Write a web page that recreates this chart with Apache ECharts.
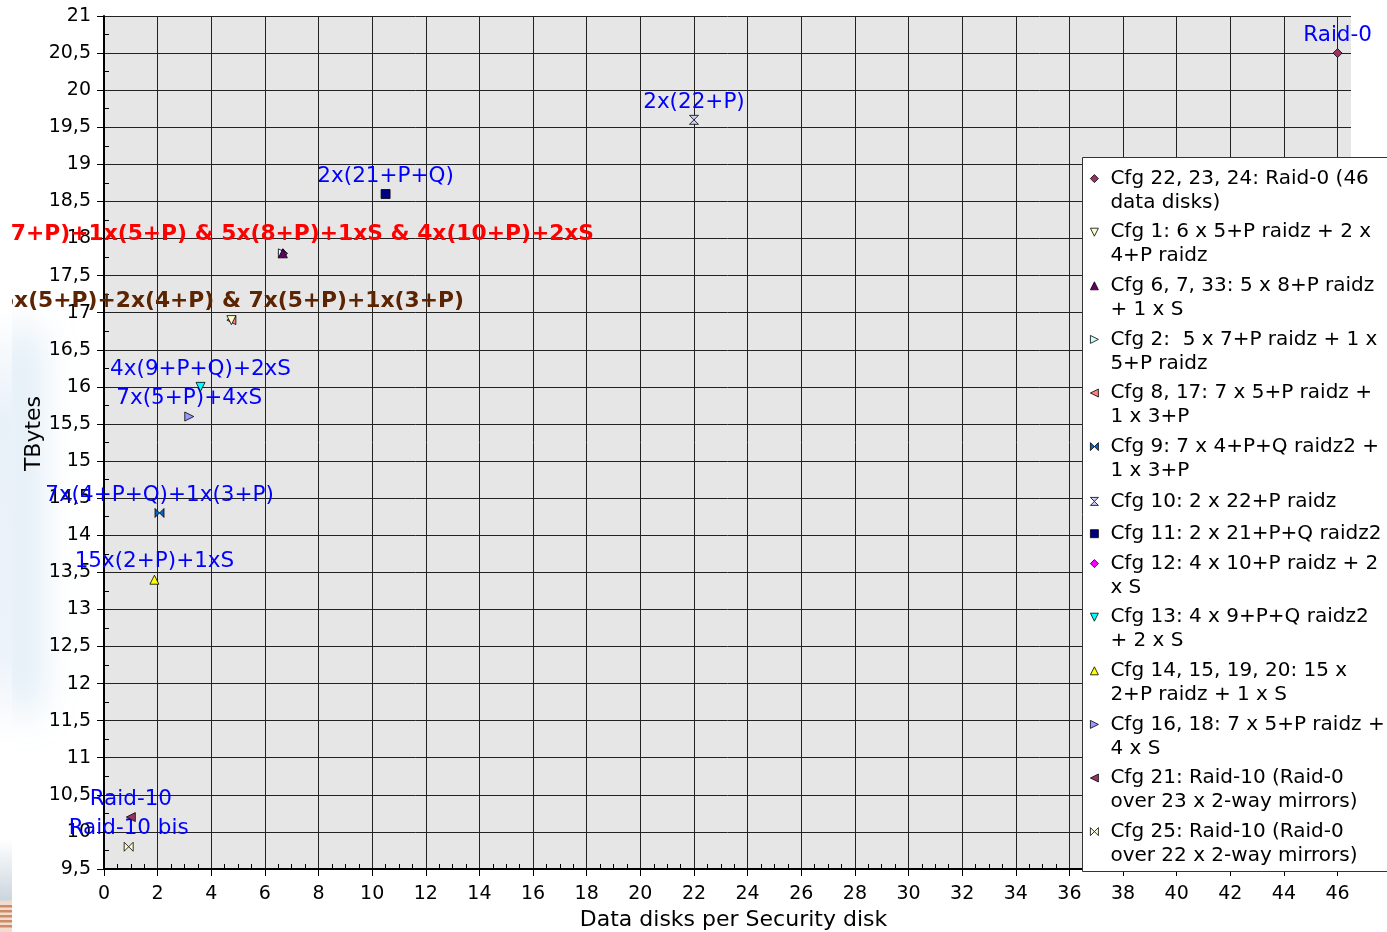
<!DOCTYPE html>
<html>
<head>
<meta charset="utf-8">
<script src="https://cdn.jsdelivr.net/npm/echarts@6/dist/echarts.min.js"></script>
<style>
  html, body { margin: 0; padding: 0; background: #ffffff; }
  #chart { width: 1387px; height: 932px; }
</style>
</head>
<body>
<div id="chart"></div>
<script>
// ZFS pool layouts: usable capacity vs. data disks per security (parity/mirror/spare) disk
const configNames = [
  'Cfg 22, 23, 24: Raid-0 (46\ndata disks)',
  'Cfg 1: 6 x 5+P raidz + 2 x\n4+P raidz',
  'Cfg 6, 7, 33: 5 x 8+P raidz\n+ 1 x S',
  'Cfg 2:  5 x 7+P raidz + 1 x\n5+P raidz',
  'Cfg 8, 17: 7 x 5+P raidz +\n1 x 3+P',
  'Cfg 9: 7 x 4+P+Q raidz2 +\n1 x 3+P',
  'Cfg 10: 2 x 22+P raidz',
  'Cfg 11: 2 x 21+P+Q raidz2',
  'Cfg 12: 4 x 10+P raidz + 2\nx S',
  'Cfg 13: 4 x 9+P+Q raidz2\n+ 2 x S',
  'Cfg 14, 15, 19, 20: 15 x\n2+P raidz + 1 x S',
  'Cfg 16, 18: 7 x 5+P raidz +\n4 x S',
  'Cfg 21: Raid-10 (Raid-0\nover 23 x 2-way mirrors)',
  'Cfg 25: Raid-10 (Raid-0\nover 22 x 2-way mirrors)'
];
const disksPerSecurity = [46, 4.75, 6.67, 6.67, 4.75, 2.07, 22, 10.5, 6.67, 3.6, 1.88, 3.18, 1, 0.92];
const capacityTB = [20.5, 16.9, 17.8, 17.8, 16.9, 14.3, 19.6, 18.6, 17.8, 16.0, 13.4, 15.6, 10.2, 9.8];
const pointLabels = [
  'Raid-0',
  '6x(5+P)+2x(4+P) & 7x(5+P)+1x(3+P)',
  '5x(7+P)+1x(5+P) & 5x(8+P)+1xS & 4x(10+P)+2xS',
  '', '',
  '7x(4+P+Q)+1x(3+P)',
  '2x(22+P)',
  '2x(21+P+Q)',
  '',
  '4x(9+P+Q)+2xS',
  '15x(2+P)+1xS',
  '7x(5+P)+4xS',
  'Raid-10',
  'Raid-10 bis'
];
const xRange = { min: 0, max: 46.5, interval: 2 };
const yRange = { min: 9.5, max: 21, interval: 0.5 };

// Marker styling per configuration
const markerColors = ['#993366', '#ffffcc', '#660066', '#ccffff', '#ff8080', '#0066cc', '#ccccff',
                      '#000080', '#ff00ff', '#00ffff', '#ffff00', '#9999ff', '#993366', '#ffffcc'];
const markerShapes = ['diamond', 'down', 'up', 'right', 'left', 'bowtie', 'hourglass',
                      'square', 'diamond', 'down', 'up', 'right', 'left', 'bowtie'];
const labelStyles = {
  blue:  { color: '#0000ff', fontSize: 21.5, fontWeight: 'normal', distance: 2 },
  red:   { color: '#ff0000', fontSize: 21.8, fontWeight: 'bold', distance: 3 },
  brown: { color: '#5c2400', fontSize: 21.8, fontWeight: 'bold', distance: 3 }
};
const labelKind = ['blue', 'brown', 'red', 'blue', 'blue', 'blue', 'blue',
                   'blue', 'blue', 'blue', 'blue', 'blue', 'blue', 'blue'];

// Polygons of each marker in a 10x10 box
const SHAPES = {
  diamond:   [[[5, 0], [10, 5], [5, 10], [0, 5]]],
  up:        [[[5, 0], [10, 10], [0, 10]]],
  down:      [[[0, 0], [10, 0], [5, 10]]],
  right:     [[[0, 0], [10, 5], [0, 10]]],
  left:      [[[10, 0], [0, 5], [10, 10]]],
  square:    [[[0, 0], [10, 0], [10, 10], [0, 10]]],
  bowtie:    [[[0, 0], [5, 5], [0, 10]], [[10, 0], [5, 5], [10, 10]]],
  hourglass: [[[0, 0], [10, 0], [5, 5]], [[0, 10], [10, 10], [5, 5]]]
};
function shapePath(kind, size, dx, dy) {
  return SHAPES[kind].map(poly =>
    poly.map((p, k) => (k ? 'L' : 'M') + (dx + p[0] * size / 10) + ' ' + (dy + p[1] * size / 10)).join(' ') + ' Z'
  ).join(' ');
}
// Legend icon: marker centred on the first text line, inside a box of the item size
function legendIcon(kind, boxH) {
  return 'path://' + shapePath(kind, 8, 1, 8) + ' M0 0 L0 0 M16 ' + boxH + ' L16 ' + boxH;
}

const FONT = 'DejaVu Sans';

const series = configNames.map((name, i) => {
  const ls = labelStyles[labelKind[i]];
  return {
    type: 'scatter',
    name: name,
    data: [[disksPerSecurity[i], capacityTB[i]]],
    symbol: 'path://' + shapePath(markerShapes[i], 10, 0, 0),
    symbolSize: 9,
    z: 2.9 - i * 0.05,
    clip: false,
    itemStyle: { color: markerColors[i], borderColor: '#000000', borderWidth: 0.8, opacity: 1 },
    emphasis: { disabled: true },
    label: {
      show: pointLabels[i] !== '',
      formatter: pointLabels[i],
      position: 'top',
      distance: ls.distance,
      color: ls.color,
      fontSize: ls.fontSize,
      fontWeight: ls.fontWeight,
      fontFamily: FONT
    }
  };
});

function legendBlock(indices, top, itemH, gap) {
  return {
    orient: 'vertical',
    left: 1089,
    top: top,
    padding: 0,
    itemGap: gap,
    itemWidth: 16,
    itemHeight: itemH,
    selectedMode: false,
    textStyle: { fontSize: 20, lineHeight: 24, color: '#000000', fontFamily: FONT },
    data: indices.map(i => ({
      name: configNames[i],
      icon: legendIcon(markerShapes[i], itemH),
      itemStyle: { color: markerColors[i], borderColor: '#000000', borderWidth: 0.8 }
    }))
  };
}

const commaFmt = v => String(v).replace('.', ',');

// page margin strip at the left edge, drawn over anything that runs past the chart frame
const stripe = y => ({ type: 'rect', z: 11, silent: true, shape: { x: 0, y: y, width: 12, height: 2.5 }, style: { fill: '#cf8a66' } });

const option = {
  animation: false,
  backgroundColor: '#ffffff',
  textStyle: { fontFamily: FONT },
  grid: {
    left: 104, top: 16, right: 36, bottom: 63,
    show: true, backgroundColor: '#e6e6e6', borderWidth: 0,
    containLabel: false, outerBoundsMode: 'none'
  },
  xAxis: [
    {
      type: 'value', min: xRange.min, max: xRange.max, interval: xRange.interval,
      name: 'Data disks per Security disk', nameLocation: 'middle', nameGap: 40, nameMoveOverlap: false,
      nameTextStyle: { fontSize: 22, color: '#000000', fontFamily: FONT, padding: [0, 0, 0, 12] },
      axisLine: { show: true, onZero: false, lineStyle: { color: '#000000', width: 2 } },
      axisTick: { show: true, inside: false, length: 7, lineStyle: { color: '#000000', width: 1 } },
      axisLabel: { fontSize: 19, color: '#000000', margin: 16, showMaxLabel: false, fontFamily: FONT },
      splitLine: { show: true, showMaxLine: false, lineStyle: { color: '#222222', width: 1 } }
    },
    {
      type: 'value', min: xRange.min, max: xRange.max, interval: xRange.interval, position: 'bottom',
      axisLine: { show: false }, axisLabel: { show: false },
      axisTick: { show: false, inside: true },
      minorTick: { show: true, splitNumber: 4, length: 5, lineStyle: { color: '#000000', width: 1 } },
      splitLine: { show: false }
    }
  ],
  yAxis: [
    {
      type: 'value', min: yRange.min, max: yRange.max, interval: yRange.interval,
      name: 'TBytes', nameLocation: 'middle', nameGap: 59, nameRotate: 90, nameMoveOverlap: false,
      nameTextStyle: { fontSize: 22, color: '#000000', fontFamily: FONT, padding: [0, 0, 0, 18] },
      axisLine: { show: true, onZero: false, lineStyle: { color: '#000000', width: 2 } },
      axisTick: { show: true, inside: false, length: 7, lineStyle: { color: '#000000', width: 1 } },
      axisLabel: { fontSize: 19, color: '#000000', margin: 13, formatter: commaFmt, fontFamily: FONT, padding: [4, 0, 0, 0] },
      splitLine: { show: true, lineStyle: { color: '#222222', width: 1 } }
    },
    {
      type: 'value', min: yRange.min, max: yRange.max, interval: yRange.interval, position: 'left',
      axisLine: { show: false }, axisLabel: { show: false },
      axisTick: { show: false, inside: true },
      minorTick: { show: true, splitNumber: 2, length: 5, lineStyle: { color: '#000000', width: 1 } },
      splitLine: { show: false }
    }
  ],
  legend: [
    legendBlock([0, 1, 2, 3, 4, 5], 166.2, 48, 4.8),
    legendBlock([6, 7], 489, 24, 7.5),
    legendBlock([8, 9, 10, 11, 12, 13], 551.2, 48, 4.8)
  ],
  graphic: [
    // legend frame
    { type: 'rect', z: 3, silent: true,
      shape: { x: 1082.5, y: 157.5, width: 330, height: 714 },
      style: { fill: '#ffffff', stroke: '#333333', lineWidth: 1 } },
    // soft backdrop along the left edge (only the blurred shadow lands on the canvas)
    { type: 'rect', z: -1, silent: true,
      shape: { x: -400, y: 330, width: 26, height: 380 },
      style: { fill: '#ffffff', shadowColor: 'rgba(190,216,236,0.75)', shadowBlur: 40, shadowOffsetX: 408 } },
    { type: 'rect', z: 10, silent: true,
      shape: { x: 0, y: 0, width: 12, height: 932 },
      style: { fill: { type: 'linear', x: 0, y: 0, x2: 0, y2: 1, colorStops: [
        { offset: 0, color: '#ffffff' },
        { offset: 0.33, color: '#ffffff' },
        { offset: 0.45, color: '#e9f1f8' },
        { offset: 0.7, color: '#ecf3f9' },
        { offset: 0.8, color: '#ffffff' },
        { offset: 0.9, color: '#ffffff' },
        { offset: 0.965, color: '#ccd6de' },
        { offset: 0.968, color: '#f1dccf' },
        { offset: 1, color: '#f1dccf' } ] } } },
    stripe(905), stripe(910), stripe(915), stripe(920), stripe(925)
  ],
  series: series
};

const chart = echarts.init(document.getElementById('chart'), null, { renderer: 'canvas' });
chart.setOption(option);
</script>
</body>
</html>
